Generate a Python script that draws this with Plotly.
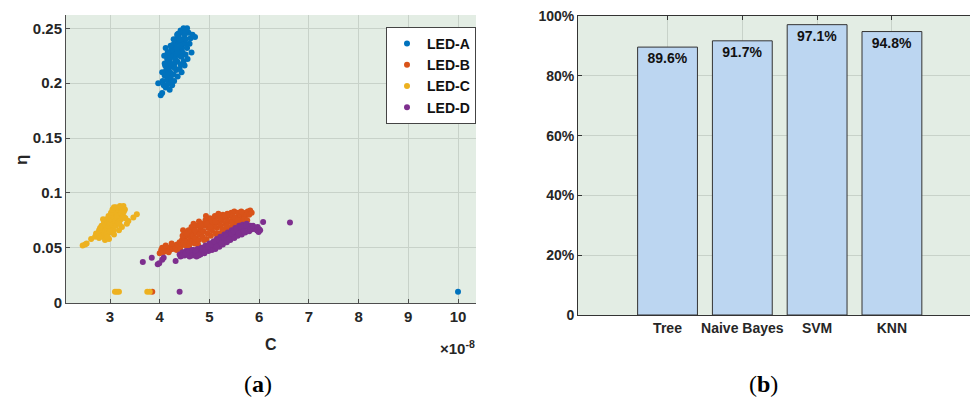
import plotly.graph_objects as go

# ---------------- data (a): C in units of 1e-8, eta ----------------
led_a_c = [3.97, 4.02, 4.05, 4.06, 4.10, 4.08, 4.12, 4.15, 4.13, 4.18, 4.15, 4.20, 4.22, 4.24, 4.21,
           4.25, 4.26, 4.28, 4.23, 4.30, 4.30, 4.32, 4.33, 4.35, 4.35, 4.38, 4.40, 4.38, 4.42, 4.42,
           4.45, 4.47, 4.45, 4.50, 4.55, 4.58, 4.62, 4.55, 4.52, 4.48, 4.28, 4.18, 4.27, 4.33, 4.40,
           4.50, 4.37, 4.19, 4.22, 4.31, 4.36, 4.41, 4.46, 4.26, 4.14, 4.11, 4.29, 4.34, 4.44, 4.53,
           4.10, 4.16, 4.22, 4.28, 4.35, 4.42, 4.48, 4.60, 4.64, 4.56, 4.50, 4.44, 4.36, 4.30, 4.25,
           4.20, 4.16, 4.71, 4.66, 4.05, 4.09, 4.12, 4.40, 4.52,
           10.0]
led_a_eta = [0.200, 0.189, 0.191, 0.202, 0.207, 0.198, 0.196, 0.203, 0.212, 0.214, 0.222, 0.220, 0.206,
             0.202, 0.210, 0.215, 0.224, 0.228, 0.230, 0.218, 0.233, 0.226, 0.212, 0.220, 0.237, 0.230,
             0.225, 0.242, 0.238, 0.217, 0.232, 0.240, 0.246, 0.236, 0.250, 0.246, 0.241, 0.232, 0.226,
             0.220, 0.208, 0.226, 0.235, 0.240, 0.213, 0.244, 0.245, 0.218, 0.224, 0.222, 0.228, 0.234,
             0.228, 0.217, 0.208, 0.216, 0.202, 0.232, 0.224, 0.240,
             0.218, 0.228, 0.234, 0.240, 0.244, 0.248, 0.250, 0.236, 0.228, 0.222, 0.216, 0.210, 0.206,
             0.214, 0.198, 0.194, 0.199, 0.242, 0.244, 0.210, 0.225, 0.232, 0.240, 0.248,
             0.010]

led_b_c = [4.00, 4.03, 4.07, 4.10, 4.13, 4.16, 4.20, 4.23, 4.26, 4.29, 4.32,
           4.35, 4.38, 4.40, 4.43, 4.45, 4.47, 4.48, 4.50, 4.52,
           4.55, 4.57, 4.60, 4.62, 4.63, 4.65, 4.67, 4.69, 4.70, 4.72, 4.74, 4.75,
           4.78, 4.80, 4.82, 4.84, 4.86, 4.88, 4.90, 4.92, 4.94, 4.96, 4.98, 5.00, 5.01,
           5.03, 5.05, 5.07, 5.09, 5.11, 5.13, 5.15, 5.17, 5.19, 5.21, 5.23, 5.25, 5.27,
           5.30, 5.32, 5.34, 5.36, 5.38, 5.40, 5.42, 5.44, 5.46, 5.48, 5.50, 5.52,
           5.54, 5.56, 5.58, 5.61, 5.63, 5.66, 5.68, 5.71, 5.74, 5.77, 5.82, 5.60,
           4.58, 4.79, 5.10, 5.28, 4.68, 4.93, 5.18, 5.45,
           4.05, 4.12, 4.18, 4.24, 4.34, 4.41, 4.46, 4.53, 4.59, 4.64, 4.71, 4.77, 4.83, 4.89,
           4.95, 5.02, 5.06, 5.12, 5.16, 5.22, 5.26, 5.31, 5.35, 5.41, 5.47, 5.51, 5.57, 5.64,
           5.70, 5.76, 5.80, 5.85,
           3.85]
led_b_eta = [0.045, 0.048, 0.046, 0.049, 0.047, 0.050, 0.048, 0.051, 0.049, 0.052, 0.050,
             0.053, 0.051, 0.055, 0.052, 0.057, 0.066, 0.054, 0.059, 0.052,
             0.056, 0.061, 0.054, 0.058, 0.064, 0.056, 0.061, 0.067, 0.054, 0.059, 0.064, 0.070,
             0.057, 0.062, 0.067, 0.072, 0.060, 0.065, 0.070, 0.075, 0.058, 0.063, 0.068, 0.073, 0.077,
             0.061, 0.066, 0.071, 0.076, 0.079, 0.063, 0.068, 0.073, 0.078, 0.063, 0.070, 0.075, 0.080,
             0.066, 0.072, 0.077, 0.081, 0.068, 0.074, 0.079, 0.082, 0.070, 0.076, 0.083, 0.066,
             0.072, 0.078, 0.082, 0.074, 0.079, 0.076, 0.082, 0.078, 0.080, 0.083, 0.084, 0.069,
             0.066, 0.074, 0.070, 0.058, 0.072, 0.079, 0.081, 0.073,
             0.050, 0.052, 0.046, 0.054, 0.048, 0.049, 0.061, 0.063, 0.051, 0.069, 0.066, 0.053,
             0.070, 0.057, 0.072, 0.069, 0.074, 0.074, 0.060, 0.077, 0.067, 0.079, 0.070, 0.080,
             0.079, 0.077, 0.075, 0.083, 0.076, 0.075, 0.080, 0.082,
             0.010]

led_c_c = [2.45, 2.50, 2.53, 2.62, 2.70, 2.75, 2.78, 2.80, 2.82, 2.85, 2.85, 2.88, 2.88, 2.90, 2.92,
           2.92, 2.95, 2.95, 2.97, 2.98, 3.00, 3.00, 3.02, 3.03, 3.05, 3.05, 3.07, 3.08, 3.10, 3.10,
           3.12, 3.13, 3.15, 3.15, 3.17, 3.18, 3.20, 3.20, 3.22, 3.23, 3.25, 3.27, 3.28, 3.30, 3.24,
           3.34, 3.37, 3.47, 3.54, 2.97, 3.02, 2.93, 2.83, 2.78, 3.12, 3.18, 3.08, 2.98, 2.90,
           2.88, 2.95, 3.00, 3.05, 3.08, 3.14, 3.19, 3.22, 3.26, 2.80, 2.72, 2.86, 3.28, 3.31,
           3.10, 3.14, 3.18, 3.75, 3.80]
led_c_eta = [0.052, 0.053, 0.054, 0.058, 0.060, 0.062, 0.059, 0.064, 0.061, 0.066, 0.060, 0.063, 0.069,
             0.065, 0.071, 0.062, 0.067, 0.074, 0.070, 0.064, 0.072, 0.077, 0.068, 0.075, 0.080, 0.071,
             0.066, 0.078, 0.083, 0.074, 0.070, 0.081, 0.086, 0.077, 0.073, 0.084, 0.088, 0.080, 0.076,
             0.086, 0.082, 0.088, 0.078, 0.085, 0.069, 0.072, 0.0745, 0.0776, 0.0806, 0.079, 0.082,
             0.076, 0.070, 0.066, 0.087, 0.066, 0.062, 0.058, 0.057,
             0.073, 0.060, 0.065, 0.085, 0.087, 0.079, 0.072, 0.082, 0.079, 0.068, 0.063, 0.076,
             0.083, 0.077,
             0.010, 0.010, 0.010, 0.010, 0.010]

led_d_c = [3.66, 3.84, 3.96, 3.99, 4.05, 4.08, 4.32, 4.40,
           4.42, 4.46, 4.50, 4.53, 4.56, 4.60, 4.63, 4.66, 4.68, 4.71, 4.74, 4.76, 4.79, 4.82, 4.84,
           4.87, 4.90, 4.92, 4.95, 4.98, 5.00, 5.02, 5.05, 5.07, 5.10, 5.12, 5.15, 5.17, 5.20, 5.22,
           5.25, 5.27, 5.30, 5.32, 5.35, 5.37, 5.40, 5.42, 5.45, 5.47, 5.50, 5.52, 5.55, 5.57, 5.60,
           5.62, 5.65, 5.67, 5.70, 5.72, 5.75, 5.78, 5.80, 5.83, 5.86, 5.90, 5.99, 6.00, 6.02, 6.08,
           4.45, 4.52, 4.58, 4.65, 4.72, 4.78, 4.86, 4.91, 4.97, 5.04, 5.09, 5.14, 5.19, 5.24,
           5.29, 5.34, 5.39, 5.44, 5.49, 5.54, 5.59, 5.64, 5.69, 5.74, 5.82, 5.88, 5.95, 5.97,
           6.62, 4.40]
led_d_eta = [0.037, 0.041, 0.035, 0.036, 0.039, 0.041, 0.038, 0.044,
             0.042, 0.046, 0.043, 0.047, 0.044, 0.042, 0.046, 0.043, 0.048, 0.045, 0.042, 0.049, 0.046,
             0.044, 0.050, 0.047, 0.045, 0.052, 0.049, 0.047, 0.054, 0.050, 0.048, 0.055, 0.052, 0.049,
             0.058, 0.054, 0.051, 0.060, 0.056, 0.053, 0.062, 0.058, 0.055, 0.064, 0.060, 0.057, 0.066,
             0.062, 0.059, 0.068, 0.064, 0.061, 0.070, 0.066, 0.062, 0.071, 0.068, 0.064, 0.072, 0.069,
             0.065, 0.070, 0.067, 0.068, 0.0645, 0.067, 0.066, 0.0736,
             0.043, 0.045, 0.047, 0.048, 0.047, 0.043, 0.049, 0.048, 0.051, 0.053, 0.056, 0.051,
             0.057, 0.054, 0.059, 0.061, 0.058, 0.063, 0.065, 0.067, 0.063, 0.069, 0.065, 0.070,
             0.067, 0.070, 0.066, 0.069,
             0.073, 0.010]

# ---------------- data (b) ----------------
classifiers = ["Tree", "Naive Bayes", "SVM", "KNN"]
accuracy = [89.6, 91.7, 97.1, 94.8]
pct_ticks = [0, 20, 40, 60, 80, 100]
pct_labels = ["0", "20%", "40%", "60%", "80%", "100%"]

W, H = 970, 398
BG = "#e3ede4"
GRID = "#c8d2c9"
AX = "#4d4d4d"
TXT = "#262626"
FONT = "Liberation Sans, Arial, sans-serif"
tickfont_a = dict(family=FONT, size=15, color=TXT, weight="bold")
tickfont_b = dict(family=FONT, size=14, color=TXT, weight="bold")

fig = go.Figure()
series = [("LED-A", led_a_c, led_a_eta, "#0072BD"),
          ("LED-B", led_b_c, led_b_eta, "#D95319"),
          ("LED-C", led_c_c, led_c_eta, "#EDB120"),
          ("LED-D", led_d_c, led_d_eta, "#7E2F8E")]
for name, xs, ys, col in series:
    fig.add_trace(go.Scatter(x=xs, y=ys, mode="markers", name=name,
                             marker=dict(color=col, size=6, line=dict(width=0)),
                             xaxis="x", yaxis="y"))

fig.add_trace(go.Bar(x=list(range(len(classifiers))), y=accuracy, width=0.8,
                     marker=dict(color="#bcd6f1", line=dict(color="#333333", width=1)),
                     texttemplate="%{y:.1f}%", textposition="inside", insidetextanchor="end",
                     textangle=0, constraintext="none",
                     textfont=dict(family=FONT, size=14, color="#111111", weight="bold"),
                     showlegend=False, xaxis="x2", yaxis="y2"))

def px_x(p):
    return p / W

def px_y(p):
    return 1 - p / H

fig.update_layout(
    width=W, height=H, margin=dict(l=0, r=0, t=0, b=0, autoexpand=False),
    paper_bgcolor="white", plot_bgcolor=BG,
    showlegend=True,
    legend=dict(x=px_x(476), xanchor="right", y=px_y(27), yanchor="top",
                bgcolor="white", bordercolor="#444444", borderwidth=1,
                font=dict(family=FONT, size=14, color="#111111", weight="bold"),
                tracegroupgap=0),
    xaxis=dict(domain=[px_x(66), px_x(476)], range=[2.115, 10.362], anchor="y", automargin=False,
               tickvals=[3, 4, 5, 6, 7, 8, 9, 10], ticks="inside", ticklen=4, tickcolor=AX,
               showgrid=True, gridcolor=GRID, gridwidth=1, zeroline=False,
               showline=True, linecolor=AX, linewidth=1, tickfont=tickfont_a),
    yaxis=dict(domain=[px_y(303), px_y(15)], range=[-0.0003, 0.2621], anchor="x", automargin=False,
               tickvals=[0, 0.05, 0.1, 0.15, 0.2, 0.25],
               ticktext=["0", "0.05", "0.1", "0.15", "0.2", "0.25"],
               ticks="inside", ticklen=4, tickcolor=AX,
               showgrid=True, gridcolor=GRID, gridwidth=1, zeroline=False,
               showline=True, linecolor=AX, linewidth=1, tickfont=tickfont_a),
    xaxis2=dict(domain=[px_x(578), 1.0], range=[-1.197, 4.044], anchor="y2", automargin=False,
                tickvals=list(range(len(classifiers))), ticktext=classifiers,
                ticks="inside", ticklen=4, tickcolor="#333333", mirror="ticks",
                showgrid=True, gridcolor=GRID, zeroline=False, layer="below traces",
                showline=True, linecolor="#333333", linewidth=1, tickfont=tickfont_b),
    yaxis2=dict(domain=[px_y(315), px_y(16)], range=[0, 100], anchor="x2", automargin=False,
                tickvals=pct_ticks, ticktext=pct_labels,
                ticks="inside", ticklen=4, tickcolor="#333333",
                showgrid=True, gridcolor=GRID, zeroline=False, layer="below traces",
                showline=True, linecolor="#333333", linewidth=1, tickfont=tickfont_b),
)

fig.add_annotation(text="η", xref="paper", yref="paper", x=px_x(21), y=px_y(160),
                   showarrow=False, xanchor="center", yanchor="middle", textangle=-90,
                   font=dict(family=FONT, size=17, color=TXT, weight="bold"))
fig.add_annotation(text="C", xref="paper", yref="paper", x=px_x(271), y=px_y(344),
                   showarrow=False, xanchor="center", yanchor="middle",
                   font=dict(family=FONT, size=16, color=TXT, weight="bold"))
fig.add_annotation(text="×10<sup>-8</sup>", xref="paper", yref="paper", x=px_x(477), y=px_y(347),
                   showarrow=False, xanchor="right", yanchor="middle",
                   font=dict(family=FONT, size=15, color=TXT, weight="bold"))
fig.add_annotation(text="(<b>a</b>)", xref="paper", yref="paper", x=px_x(258), y=px_y(384),
                   showarrow=False, xanchor="center", yanchor="middle",
                   font=dict(family="Liberation Serif, Times New Roman, serif", size=24, color="#000000"))
fig.add_annotation(text="(<b>b</b>)", xref="paper", yref="paper", x=px_x(763), y=px_y(384),
                   showarrow=False, xanchor="center", yanchor="middle",
                   font=dict(family="Liberation Serif, Times New Roman, serif", size=24, color="#000000"))

fig.write_html("out.html", config={"displayModeBar": False},
               post_script="document.body.style.margin='0';document.body.style.padding='0';"
                           "document.body.style.overflow='hidden';")
